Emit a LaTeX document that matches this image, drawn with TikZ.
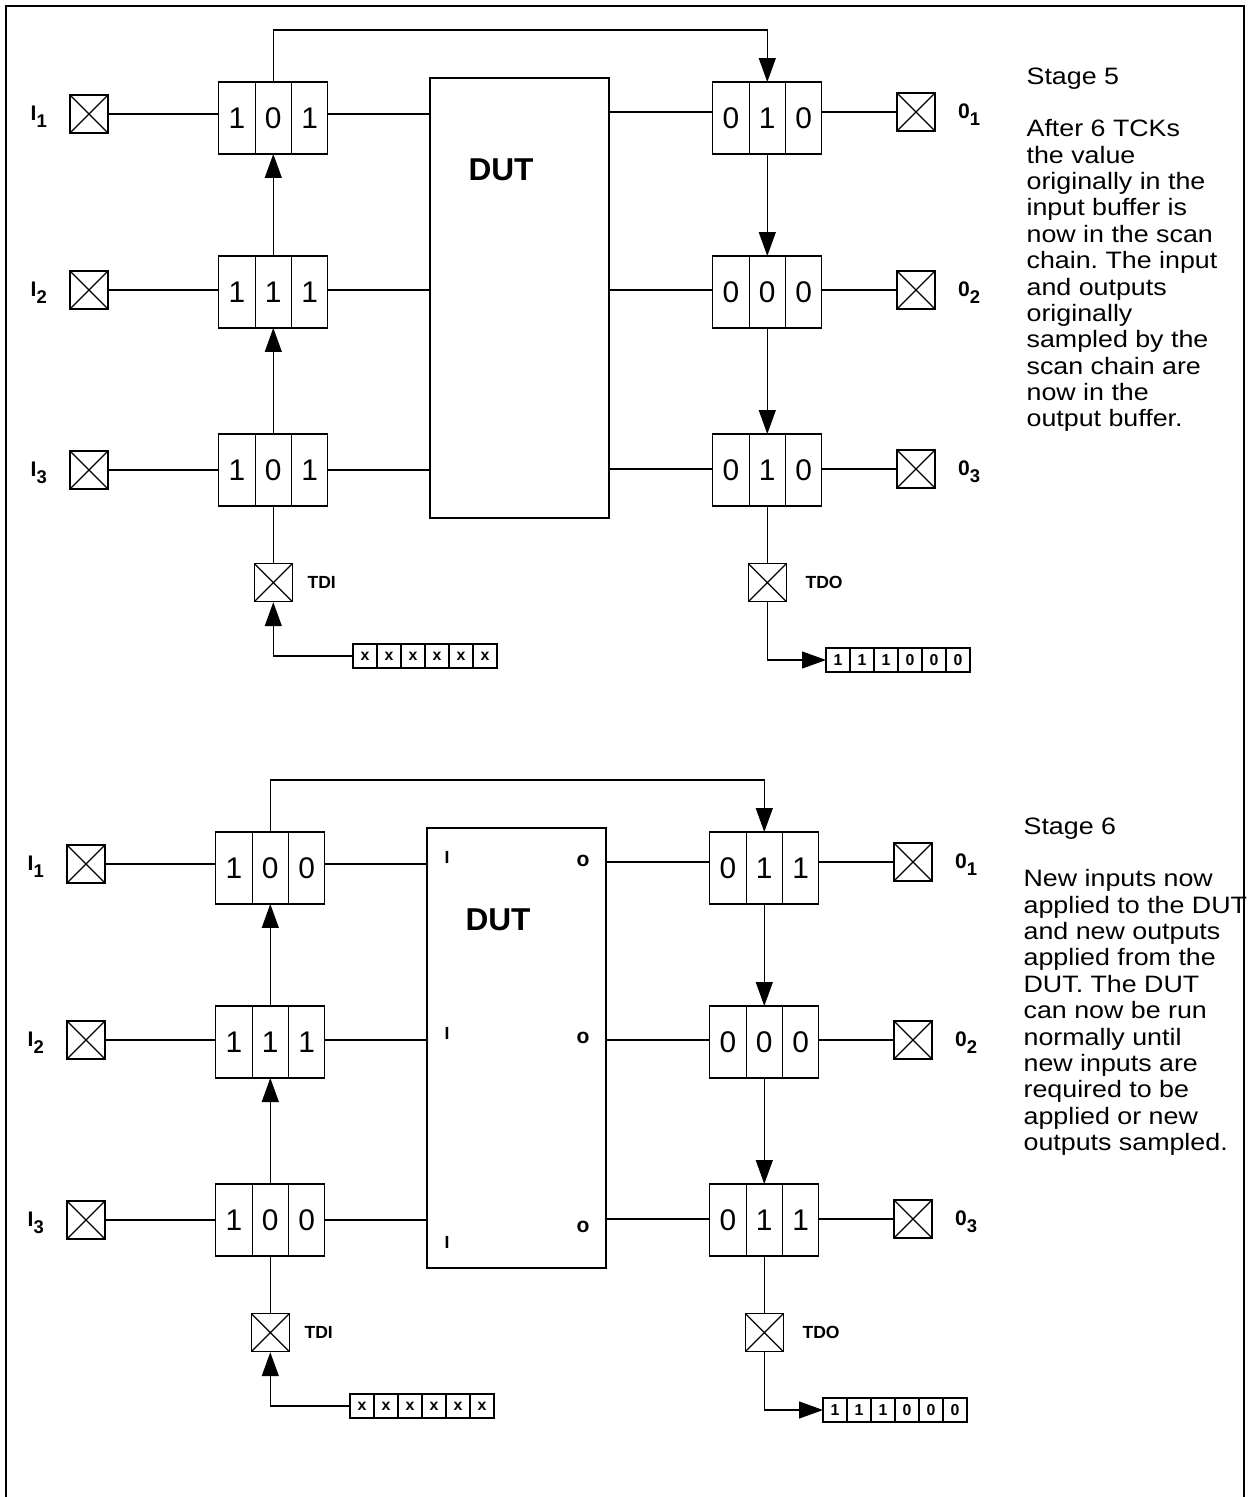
\documentclass[tikz,border=0pt]{standalone}
\usepackage{fontspec}
\setmainfont{Liberation Sans}
\newfontfamily\notefont[FakeStretch=1.13]{Liberation Sans}
\frenchspacing
\usetikzlibrary{arrows.meta,positioning}
\tikzset{
  padbox/.style={rectangle, draw, minimum size=0.76cm, inner sep=0pt,
    path picture={\draw (path picture bounding box.south west) -- (path picture bounding box.north east)
      (path picture bounding box.north west) -- (path picture bounding box.south east);}},
  bitcell/.style={rectangle, draw, minimum width=0.726cm, minimum height=1.44cm,
    inner sep=0pt, outer sep=0pt, font=\fontsize{17}{17}\selectfont},
  tapecell/.style={rectangle, draw, minimum size=0.48cm, inner sep=0pt, outer sep=0pt,
    font=\fontsize{9}{9}\selectfont\bfseries},
  dutbox/.style={rectangle, draw, minimum width=3.58cm, minimum height=8.8cm},
  dutname/.style={font=\fontsize{18}{18}\selectfont\bfseries},
  pinlabel/.style={font=\fontsize{10}{12}\selectfont\bfseries, inner sep=0pt},
  portlabel/.style={font=\fontsize{12}{12}\selectfont\bfseries, inner sep=0pt, yshift=-0.06cm},
  iolabel/.style={font=\fontsize{12}{12}\selectfont\bfseries, inner sep=0pt},
  scanarrow/.style={-{Triangle[length=0.48cm,width=0.34cm]}},
  notes/.style={anchor=north west, align=left, inner sep=0pt,
    font=\notefont\fontsize{13.5}{15}\selectfont},
}
% three boundary scan cells side by side
\newcommand{\bits}[5]{%
  \node[bitcell] (#1a) at (#2) {#3};
  \node[bitcell, right=0pt of #1a] (#1b) {#4};
  \node[bitcell, right=0pt of #1b] (#1c) {#5};
}
\newcommand{\portname}[2]{#1\raisebox{-4pt}{\fontsize{10.5}{10.5}\selectfont#2}}
% pads, DUT, wires and scan path shared by both stages
\newcommand{\stagewiring}{%
  \node[dutbox] (dut) at (519.5,298) {};
  \node[dutname] (dutlabel) at (501,170) {DUT};
  \foreach \n/\y in {1/114,2/290,3/470} {
    \node[padbox] (i\n) at (89,\y) {};
    \node[portlabel, left=0.44cm of i\n] (il\n) {\portname{I}{\n}};
  }
  \foreach \n/\y in {1/112,2/290,3/469} {
    \node[padbox] (o\n) at (916,\y) {};
    \node[portlabel, right=0.44cm of o\n] (ol\n) {\portname{0}{\n}};
  }
  \foreach \n in {1,2,3} {
    \draw (i\n) -- (i\n -| i\n a.west);
    \draw (i\n -| i\n c.east) -- (i\n -| dut.west);
    \draw (o\n -| dut.east) -- (o\n -| o\n a.west);
    \draw (o\n -| o\n c.east) -- (o\n);
  }
  \node[padbox, below=1.14cm of i3b] (tdi) {};
  \node[pinlabel, right=0.28cm of tdi] (tdilabel) {TDI};
  \node[padbox, below=1.14cm of o3b] (tdo) {};
  \node[pinlabel, right=0.36cm of tdo] (tdolabel) {TDO};
  \foreach \v [count=\k] in {x,x,x,x,x,x}
    \node[tapecell] (xin\k) at ({341+24*\k},656) {\v};
  \foreach \v [count=\k] in {1,1,1,0,0,0}
    \node[tapecell] (xout\k) at ({814+24*\k},660) {\v};
  % scan path
  \coordinate (loop) at (500,30);
  \draw[scanarrow] (i1b.north) |- (loop) -| (o1b.north);
  \draw[scanarrow] (i3b.north) -- (i2b.south);
  \draw[scanarrow] (i2b.north) -- (i1b.south);
  \draw[scanarrow] (o1b.south) -- (o2b.north);
  \draw[scanarrow] (o2b.south) -- (o3b.north);
  \draw (i3b.south) -- (tdi);
  \draw[scanarrow] (xin1.west) -| (tdi.south);
  \draw (o3b.south) -- (tdo);
  \draw[scanarrow] (tdo.south) |- (xout1.west);
}

\begin{document}
\begin{tikzpicture}[x=0.02cm, y=-0.02cm, line width=0.7pt]
\useasboundingbox (0,0) rectangle (1250,1497);
% page frame, open at the bottom
\draw (6,1497) -- (6,6) -- (1244,6) -- (1244,1497);

% Stage 5
\begin{scope}[name prefix=s5-]
  \bits{i1}{237,118}{1}{0}{1}
  \bits{i2}{237,292}{1}{1}{1}
  \bits{i3}{237,470}{1}{0}{1}
  \bits{o1}{731,118}{0}{1}{0}
  \bits{o2}{731,292}{0}{0}{0}
  \bits{o3}{731,470}{0}{1}{0}
  \stagewiring
  \node[notes] (note) at (1026,67) {Stage 5\\[15pt]
    After 6 TCKs\\ the value\\ originally in the\\ input buffer is\\
    now in the scan\\ chain. The input\\ and outputs\\ originally\\
    sampled by the\\ scan chain are\\ now in the\\ output buffer.};
\end{scope}

% Stage 6
\begin{scope}[shift={(-3,750)}, name prefix=s6-]
  \bits{i1}{237,118}{1}{0}{0}
  \bits{i2}{237,292}{1}{1}{1}
  \bits{i3}{237,470}{1}{0}{0}
  \bits{o1}{731,118}{0}{1}{1}
  \bits{o2}{731,292}{0}{0}{0}
  \bits{o3}{731,470}{0}{1}{1}
  \stagewiring
  \node[pinlabel] (din1) at (450,107) {I};
  \node[pinlabel] (din2) at (450,283) {I};
  \node[pinlabel] (din3) at (450,492) {I};
  \node[iolabel] (dout1) at (586,111) {o};
  \node[iolabel] (dout2) at (586,288) {o};
  \node[iolabel] (dout3) at (586,477) {o};
  \node[notes] (note) at (1026,67) {Stage 6\\[15pt]
    New inputs now\\ applied to the DUT\\ and new outputs\\ applied from the\\
    DUT. The DUT\\ can now be run\\ normally until\\ new inputs are\\
    required to be\\ applied or new\\ outputs sampled.};
\end{scope}
\end{tikzpicture}
\end{document}
